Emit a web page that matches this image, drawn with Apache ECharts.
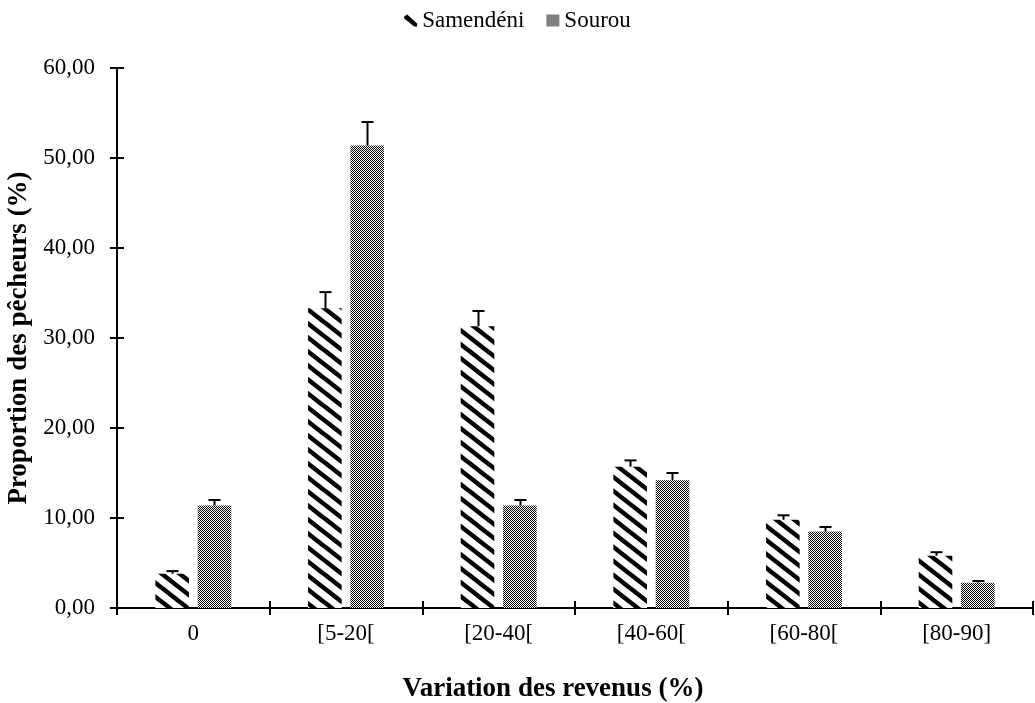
<!DOCTYPE html>
<html>
<head>
<meta charset="utf-8">
<script src="https://cdn.jsdelivr.net/npm/echarts@6/dist/echarts.min.js"></script>
<style>
html, body { margin: 0; padding: 0; background: #fff; }
#main { width: 1035px; height: 703px; }
</style>
</head>
<body>
<div id="main"></div>
<script>
var categories = ['0', '[5-20[', '[20-40[', '[40-60[', '[60-80[', '[80-90]'];
var samendeni = [3.8, 33.3, 31.3, 15.7, 9.8, 5.8];
var samendeniErr = [0.3, 1.8, 1.7, 0.7, 0.5, 0.4];
var sourou = [11.4, 51.4, 11.4, 14.2, 8.5, 2.8];
var sourouErr = [0.6, 2.6, 0.6, 0.8, 0.5, 0.2];
var yTicks = [0, 10, 20, 30, 40, 50, 60];

var FONT = '"Liberation Serif", "Times New Roman", serif';

// hatch pattern "\"
function hatchPattern() {
    var c = document.createElement('canvas');
    var w = 18, h = 14;
    c.width = w; c.height = h;
    var ctx = c.getContext('2d');
    ctx.fillStyle = '#fff';
    ctx.fillRect(0, 0, w, h);
    ctx.strokeStyle = '#000';
    ctx.lineWidth = 4.5;
    for (var k = -1; k <= 1; k++) {
        ctx.beginPath();
        ctx.moveTo(-w, -h + k * h);
        ctx.lineTo(2 * w, 2 * h + k * h);
        ctx.stroke();
    }
    return c;
}
// fine checker
function checkerPattern() {
    var c = document.createElement('canvas');
    c.width = 2; c.height = 2;
    var ctx = c.getContext('2d');
    ctx.fillStyle = '#fff';
    ctx.fillRect(0, 0, 2, 2);
    ctx.fillStyle = '#000';
    ctx.fillRect(0, 0, 1, 1);
    ctx.fillRect(1, 1, 1, 1);
    return c;
}

var hatch = { image: hatchPattern(), repeat: 'repeat' };
var checker = { image: checkerPattern(), repeat: 'repeat' };

var BAR_W = 0.22, BAR_GAP = 0.26;

function errorItem(side, vals, errs) {
    return function (params, api) {
        var i = api.value(0);
        var bw = api.size([1, 0])[0];
        var barW = bw * BAR_W;
        var off = side * (barW + barW * BAR_GAP) / 2;
        var top = api.coord([i, vals[i]]);
        var hi = api.coord([i, vals[i] + errs[i]]);
        var x = Math.round(top[0] + off) + 0.5;
        var style = { stroke: '#000', lineWidth: 2 };
        return {
            type: 'group',
            children: [
                { type: 'line', shape: { x1: x, y1: top[1], x2: x, y2: hi[1] }, style: style },
                { type: 'line', shape: { x1: x - 6, y1: hi[1], x2: x + 6, y2: hi[1] }, style: style }
            ]
        };
    };
}

var myChart = echarts.init(document.getElementById('main'));
var option = {
    animation: false,
    backgroundColor: '#fff',
    legend: {
        top: 4,
        left: 'center',
        itemGap: 22,
        itemWidth: 13,
        itemHeight: 12,
        textStyle: { fontFamily: FONT, fontSize: 23, color: '#000' },
        data: [
            { name: 'Samendéni', icon: 'path://M0,2 L3,0 L13,9 L13,12 L10,12 L0,4 Z', itemStyle: { color: '#000' } },
            { name: 'Sourou', icon: 'rect' }
        ]
    },
    grid: { left: 117, right: 2, top: 68, bottom: 95, containLabel: false, outerBoundsMode: 'none' },
    xAxis: [{
        type: 'category',
        data: categories,
        axisLine: { lineStyle: { color: '#000', width: 2 } },
        axisTick: { show: true, length: 7, lineStyle: { color: '#000', width: 2 } },
        axisLabel: { fontFamily: FONT, fontSize: 23, color: '#000', margin: 14 },
        name: 'Variation des revenus (%)',
        nameLocation: 'middle',
        nameGap: 68,
        nameTextStyle: { fontFamily: FONT, fontSize: 27, fontWeight: 'bold', color: '#000', padding: [0, 44, 0, 0] }
    }, {
        type: 'category',
        data: categories,
        position: 'bottom',
        axisLine: { show: false },
        axisTick: { show: true, inside: true, length: 7, lineStyle: { color: '#000', width: 2 } },
        axisLabel: { show: false }
    }],
    yAxis: [{
        type: 'value',
        min: yTicks[0],
        max: yTicks[yTicks.length - 1],
        interval: 10,
        splitLine: { show: false },
        axisLine: { show: true, lineStyle: { color: '#000', width: 2 } },
        axisTick: { show: true, length: 7, lineStyle: { color: '#000', width: 2 } },
        axisLabel: {
            fontFamily: FONT, fontSize: 23, color: '#000', margin: 22,
            formatter: function (v) { return v.toFixed(2).replace('.', ','); }
        },
        name: 'Proportion des pêcheurs (%)',
        nameLocation: 'middle',
        nameGap: 83,
        nameTextStyle: { fontFamily: FONT, fontSize: 27, fontWeight: 'bold', color: '#000' }
    }, {
        type: 'value',
        min: yTicks[0],
        max: yTicks[yTicks.length - 1],
        interval: 10,
        position: 'left',
        splitLine: { show: false },
        axisLine: { show: false },
        axisTick: { show: true, inside: true, length: 7, lineStyle: { color: '#000', width: 2 } },
        axisLabel: { show: false }
    }],
    series: [{
        name: 'Samendéni',
        type: 'bar',
        barWidth: (BAR_W * 100) + '%',
        barGap: (BAR_GAP * 100) + '%',
        itemStyle: { color: hatch },
        data: samendeni
    }, {
        name: 'Sourou',
        type: 'bar',
        barWidth: (BAR_W * 100) + '%',
        barGap: (BAR_GAP * 100) + '%',
        itemStyle: { color: checker },
        data: sourou
    }, {
        name: 'errS',
        type: 'custom',
        renderItem: errorItem(-1, samendeni, samendeniErr),
        data: categories.map(function (c, i) { return [i]; }),
        z: 5
    }, {
        name: 'errR',
        type: 'custom',
        renderItem: errorItem(1, sourou, sourouErr),
        data: categories.map(function (c, i) { return [i]; }),
        z: 5
    }]
};
myChart.setOption(option);
window.addEventListener('resize', function () {
    myChart.resize();
});
</script>
</body>
</html>
